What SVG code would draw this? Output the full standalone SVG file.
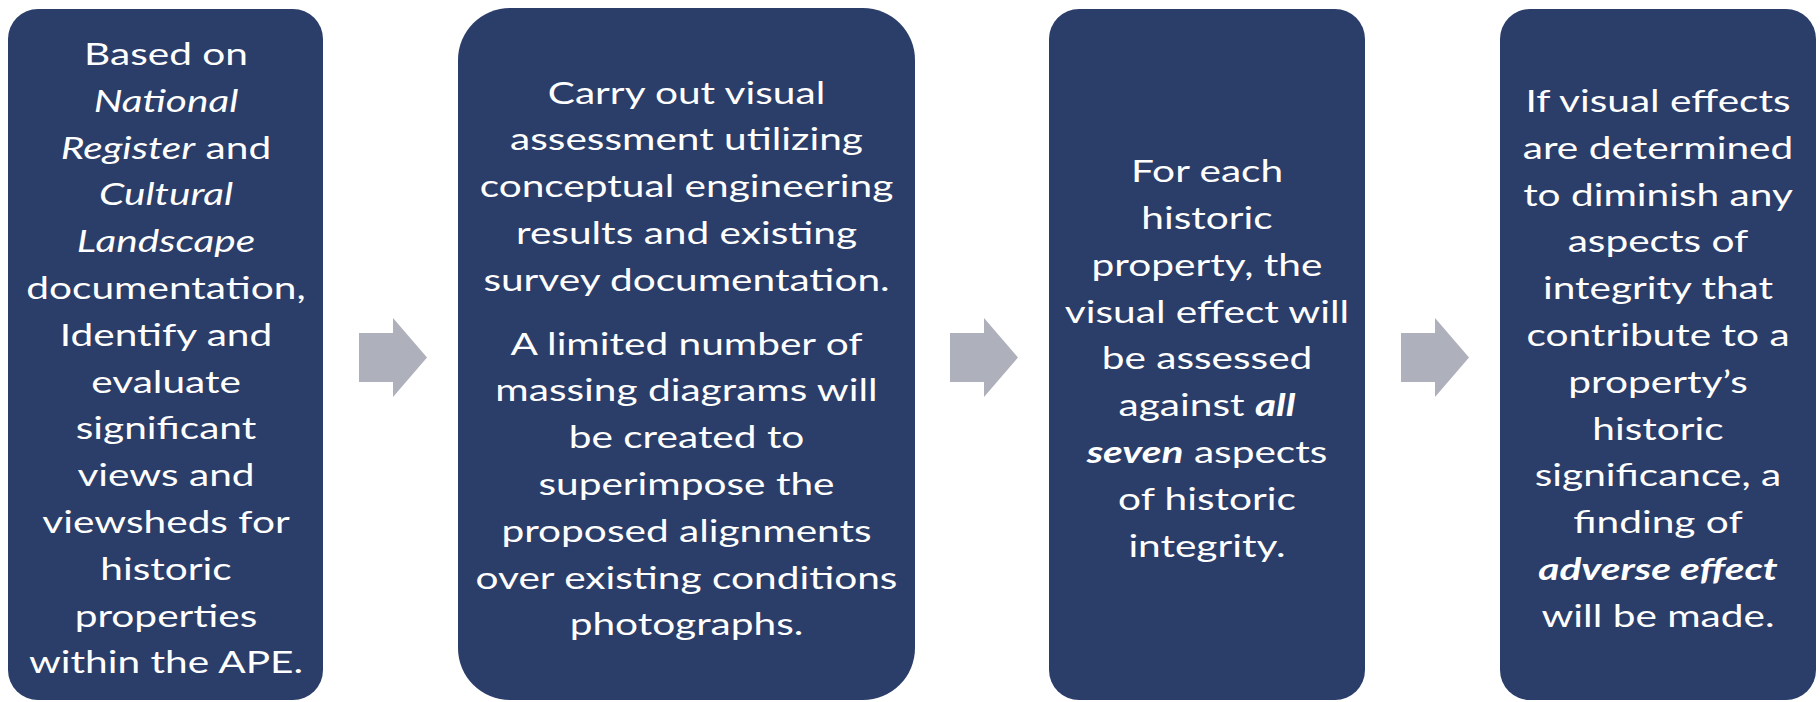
<svg xmlns="http://www.w3.org/2000/svg" width="1820" height="702" viewBox="0 0 1820 702">
<style>
.box{fill:#2B3D69;}
.arrow{fill:#AEB0BB;}
.t{font-family:Lato,"Open Sans","Liberation Sans",sans-serif;font-size:31px;fill:#FFFFFF;text-anchor:middle;}
.i{font-style:italic;}
.bi{font-style:italic;font-weight:bold;}
</style>
<rect width="1820" height="702" fill="#FFFFFF"/>
<g id="connectors">
<polygon class="arrow" points="359,333 393,333 393,318 427,357.5 393,397 393,382 359,382"/>
<polygon class="arrow" points="950,333 984,333 984,318 1018,357.5 984,397 984,382 950,382"/>
<polygon class="arrow" points="1401,333 1435,333 1435,318 1469,357.5 1435,397 1435,382 1401,382"/>
</g>
<g id="node1">
<rect class="box" x="8" y="9" width="315" height="691" rx="30" ry="30"/>
<g transform="translate(166,0) scale(1.31,1)">
<text class="t" x="0" y="65">Based on</text>
<text class="t" x="0" y="111.8"><tspan class="i">National</tspan></text>
<text class="t" x="0" y="158.6"><tspan class="i">Register</tspan> and</text>
<text class="t" x="0" y="205.4"><tspan class="i">Cultural</tspan></text>
<text class="t" x="0" y="252.2"><tspan class="i">Landscape</tspan></text>
<text class="t" x="0" y="299">documentation,</text>
<text class="t" x="0" y="345.8">Identify and</text>
<text class="t" x="0" y="392.6">evaluate</text>
<text class="t" x="0" y="439.4">significant</text>
<text class="t" x="0" y="486.2">views and</text>
<text class="t" x="0" y="533">viewsheds for</text>
<text class="t" x="0" y="579.8">historic</text>
<text class="t" x="0" y="626.6">properties</text>
<text class="t" x="0" y="673.4">within the APE.</text>
</g>
</g>
<g id="node2">
<rect class="box" x="458" y="8" width="457" height="692" rx="52" ry="52"/>
<g transform="translate(686.5,0) scale(1.31,1)">
<text class="t" x="0" y="103.6">Carry out visual</text>
<text class="t" x="0" y="150.4">assessment utilizing</text>
<text class="t" x="0" y="197.2">conceptual engineering</text>
<text class="t" x="0" y="244">results and existing</text>
<text class="t" x="0" y="290.8">survey documentation.</text>
<text class="t" x="0" y="354.6">A limited number of</text>
<text class="t" x="0" y="401.4">massing diagrams will</text>
<text class="t" x="0" y="448.2">be created to</text>
<text class="t" x="0" y="495">superimpose the</text>
<text class="t" x="0" y="541.8">proposed alignments</text>
<text class="t" x="0" y="588.6">over existing conditions</text>
<text class="t" x="0" y="635.4">photographs.</text>
</g>
</g>
<g id="node3">
<rect class="box" x="1049" y="9" width="316" height="691" rx="30" ry="30"/>
<g transform="translate(1207,0) scale(1.31,1)">
<text class="t" x="0" y="182.3">For each</text>
<text class="t" x="0" y="229.1">historic</text>
<text class="t" x="0" y="275.9">property, the</text>
<text class="t" x="0" y="322.7">visual effect will</text>
<text class="t" x="0" y="369.5">be assessed</text>
<text class="t" x="0" y="416.3">against <tspan class="bi">all</tspan></text>
<text class="t" x="0" y="463.1"><tspan class="bi">seven</tspan> aspects</text>
<text class="t" x="0" y="509.9">of historic</text>
<text class="t" x="0" y="556.7">integrity.</text>
</g>
</g>
<g id="node4">
<rect class="box" x="1500" y="9" width="316" height="691" rx="30" ry="30"/>
<g transform="translate(1658,0) scale(1.31,1)">
<text class="t" x="0" y="112.1">If visual effects</text>
<text class="t" x="0" y="158.9">are determined</text>
<text class="t" x="0" y="205.7">to diminish any</text>
<text class="t" x="0" y="252.5">aspects of</text>
<text class="t" x="0" y="299.3">integrity that</text>
<text class="t" x="0" y="346.1">contribute to a</text>
<text class="t" x="0" y="392.9">property’s</text>
<text class="t" x="0" y="439.7">historic</text>
<text class="t" x="0" y="486.5">significance, a</text>
<text class="t" x="0" y="533.3">finding of</text>
<text class="t" x="0" y="580.1"><tspan class="bi">adverse effect</tspan></text>
<text class="t" x="0" y="626.9">will be made.</text>
</g>
</g>
</svg>
